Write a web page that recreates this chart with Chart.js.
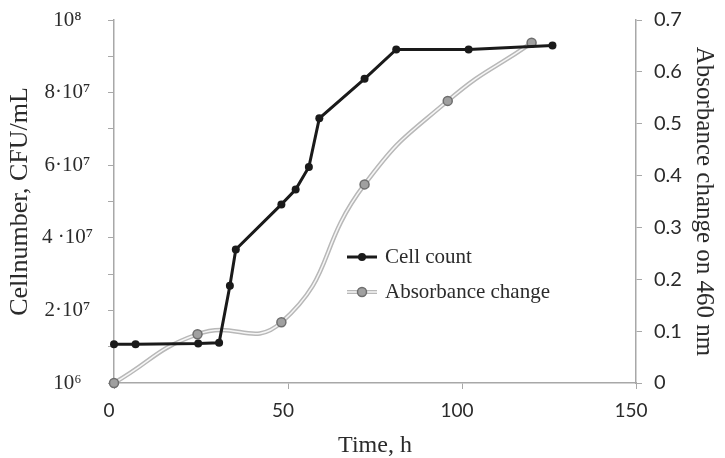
<!DOCTYPE html>
<html>
<head>
<meta charset="utf-8">
<script src="https://cdn.jsdelivr.net/npm/chart.js@4/dist/chart.umd.min.js"></script>
<style>
  html, body { margin: 0; padding: 0; background: #fff; }
  #wrap { width: 725px; height: 458px; }
</style>
</head>
<body>
<div id="wrap"><canvas id="growthChart"></canvas></div>
<script>
// data
const cellTime  = [0, 6.2, 24.2, 30.2, 33.3, 35.0, 48.1, 52.2, 56.0, 59.0, 72.0, 81.1, 101.9, 126.0];
const cellCount = [1.07e7, 1.07e7, 1.09e7, 1.11e7, 2.68e7, 3.68e7, 4.92e7, 5.33e7, 5.95e7, 7.29e7, 8.38e7, 9.19e7, 9.19e7, 9.30e7];
const absTime   = [0, 24.0, 48.1, 72.0, 95.9, 120.0];
const absValue  = [0, 0.094, 0.117, 0.383, 0.544, 0.656];
const leftTickLabels  = ['10⁶', '2·10⁷', '4 ·10⁷', '6·10⁷', '8·10⁷', '10⁸'];
const rightTickLabels = ['0', '0.1', '0.2', '0.3', '0.4', '0.5', '0.6', '0.7'];
const xTickLabels     = ['0', '50', '100', '150'];

const toPoints = (xs, ys) => xs.map((x, i) => ({ x: x, y: ys[i] }));

const serif = 'Liberation Serif';
const sans = 'Lato';
const textColor = '#2b2b2b';
const axisColor = '#a8a8a8';

// legend drawn inside the plot like the original
const insideLegend = {
  id: 'insideLegend',
  afterDatasetsDraw(chart) {
    const ctx = chart.ctx;
    ctx.save();
    // Cell count
    ctx.strokeStyle = '#1a1a1a';
    ctx.lineWidth = 3;
    ctx.beginPath(); ctx.moveTo(347, 257); ctx.lineTo(377, 257); ctx.stroke();
    ctx.fillStyle = '#1a1a1a';
    ctx.beginPath(); ctx.arc(362, 257, 4, 0, Math.PI * 2); ctx.fill();
    // Absorbance change
    ctx.strokeStyle = '#b8b8b8';
    ctx.lineWidth = 4;
    ctx.beginPath(); ctx.moveTo(347, 292); ctx.lineTo(377, 292); ctx.stroke();
    ctx.strokeStyle = '#f6f6f6';
    ctx.lineWidth = 1.5;
    ctx.beginPath(); ctx.moveTo(347, 292); ctx.lineTo(377, 292); ctx.stroke();
    ctx.fillStyle = '#a0a0a0';
    ctx.strokeStyle = '#6e6e6e';
    ctx.lineWidth = 1.5;
    ctx.beginPath(); ctx.arc(362, 292, 4.5, 0, Math.PI * 2); ctx.fill(); ctx.stroke();
    // labels
    ctx.fillStyle = textColor;
    ctx.font = '21px "' + serif + '"';
    ctx.textBaseline = 'middle';
    ctx.textAlign = 'left';
    ctx.fillText('Cell count', 385, 257);
    ctx.fillText('Absorbance change', 385, 292);
    ctx.restore();
  }
};

const ctx = document.getElementById('growthChart').getContext('2d');
new Chart(ctx, {
  type: 'line',
  data: {
    datasets: [
      {
        label: 'Cell count',
        data: toPoints(cellTime, cellCount),
        yAxisID: 'yCells',
        borderColor: '#1a1a1a',
        borderWidth: 3,
        backgroundColor: '#1a1a1a',
        pointRadius: 4,
        pointBorderWidth: 0,
        tension: 0,
        clip: false
      },
      {
        label: 'Absorbance change',
        data: toPoints(absTime, absValue),
        yAxisID: 'yAbs',
        showLine: false,
        backgroundColor: '#a0a0a0',
        borderColor: '#6e6e6e',
        pointRadius: 4.5,
        pointBorderWidth: 1.5,
        clip: false
      },
      {
        label: 'abs-inner',
        data: toPoints(absTime, absValue),
        yAxisID: 'yAbs',
        borderColor: '#f6f6f6',
        borderWidth: 1.5,
        pointRadius: 0,
        tension: 0.5,
        clip: false
      },
      {
        label: 'abs-outer',
        data: toPoints(absTime, absValue),
        yAxisID: 'yAbs',
        borderColor: '#b8b8b8',
        borderWidth: 4.5,
        pointRadius: 0,
        tension: 0.5,
        clip: false
      }
    ]
  },
  options: {
    responsive: true,
    maintainAspectRatio: false,
    animation: false,
    layout: { padding: { top: 20, left: 0, right: 0, bottom: 0 } },
    plugins: {
      legend: { display: false },
      tooltip: { enabled: false }
    },
    scales: {
      x: {
        type: 'linear',
        min: 0, max: 150,
        border: { color: axisColor, width: 1.5 },
        grid: { drawOnChartArea: false, color: axisColor, tickLength: 6 },
        ticks: {
          stepSize: 50,
          padding: 10,
          labelOffset: -5,
          color: textColor,
          font: { family: sans, size: 19 },
          callback: (v) => xTickLabels[Math.round(v / 50)]
        },
        title: {
          display: true, text: 'Time, h', color: textColor,
          font: { family: serif, size: 24, lineHeight: 1 },
          padding: { top: 0, bottom: 0 }
        },
        afterFit: (s) => { s.height = 75; s.paddingLeft = 0; s.paddingRight = 0; }
      },
      yCells: {
        type: 'linear',
        position: 'left',
        min: 0, max: 1e8,
        border: { color: axisColor, width: 1.5 },
        grid: { drawOnChartArea: false, color: axisColor, tickLength: 6 },
        ticks: {
          stepSize: 1e7,
          padding: 15,
          crossAlign: 'center',
          autoSkip: false,
          color: textColor,
          font: { family: serif, size: 21 },
          callback: (v) => {
            const k = Math.round(v / 1e7);
            return k % 2 === 0 ? leftTickLabels[k / 2] : '';
          }
        },
        title: {
          display: true, text: 'Cellnumber, CFU/mL', color: textColor,
          font: { family: serif, size: 26, lineHeight: 1 },
          padding: { top: 7, bottom: 0 }
        },
        afterFit: (s) => { s.width = 114; s.paddingTop = 0; s.paddingBottom = 0; }
      },
      yAbs: {
        type: 'linear',
        position: 'right',
        min: 0, max: 0.7,
        border: { color: axisColor, width: 1.5 },
        grid: { drawOnChartArea: false, color: axisColor, tickLength: 6 },
        ticks: {
          stepSize: 0.1,
          padding: 12,
          color: textColor,
          font: { family: sans, size: 20 },
          callback: (v) => rightTickLabels[Math.round(v * 10)]
        },
        title: {
          display: true, text: 'Absorbance change on 460 nm', color: textColor,
          font: { family: serif, size: 25, lineHeight: 1 },
          padding: { top: 9, bottom: 0 }
        },
        afterFit: (s) => { s.width = 89; s.paddingTop = 0; s.paddingBottom = 0; }
      }
    }
  },
  plugins: [insideLegend]
});
</script>
</body>
</html>
